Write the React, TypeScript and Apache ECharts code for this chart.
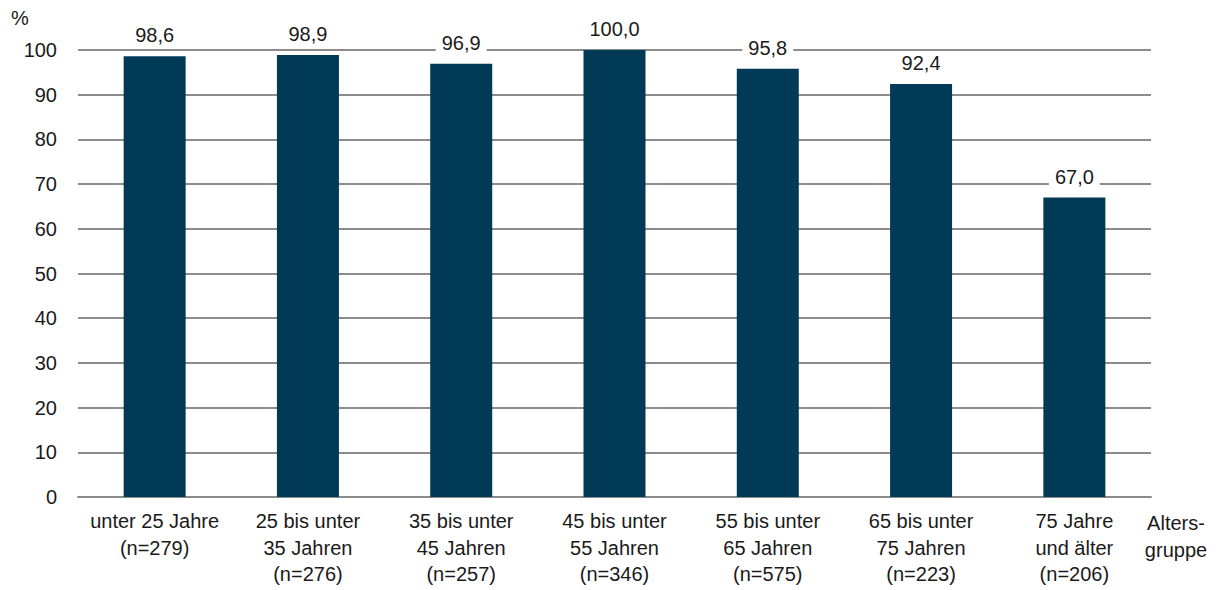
import React, { useEffect, useRef } from "react";
import * as echarts from "echarts";

// Age groups with sample sizes (multi-line axis labels)
const categories: string[] = [
  "unter 25 Jahre\n(n=279)",
  "25 bis unter\n35 Jahren\n(n=276)",
  "35 bis unter\n45 Jahren\n(n=257)",
  "45 bis unter\n55 Jahren\n(n=346)",
  "55 bis unter\n65 Jahren\n(n=575)",
  "65 bis unter\n75 Jahren\n(n=223)",
  "75 Jahre\nund älter\n(n=206)",
];

// Share in percent
const values: number[] = [98.6, 98.9, 96.9, 100.0, 95.8, 92.4, 67.0];

const yTicks = { min: 0, max: 100, interval: 10 };

const FONT = "'Liberation Sans', Arial, sans-serif";
const TEXT = "#1a1a1a";
const BAR = "#003a57";
const GRID = "#8c8c8c";

export default function App() {
  const ref = useRef<HTMLDivElement>(null);

  useEffect(() => {
    if (!ref.current) return;
    const chart = echarts.init(ref.current, undefined, { renderer: "svg" });
    chart.setOption({
      animation: false,
      backgroundColor: "#ffffff",
      grid: { left: 78, right: 68, top: 50, bottom: 93, containLabel: false },
      xAxis: {
        type: "category",
        data: categories,
        axisLine: { show: true, lineStyle: { color: GRID, width: 2 } },
        axisTick: { show: false },
        axisLabel: {
          color: TEXT,
          fontFamily: FONT,
          fontSize: 20,
          lineHeight: 26.5,
          margin: 11,
          interval: 0,
        },
      },
      yAxis: {
        type: "value",
        min: yTicks.min,
        max: yTicks.max,
        interval: yTicks.interval,
        axisLine: { show: false },
        axisTick: { show: false },
        axisLabel: {
          color: TEXT,
          fontFamily: FONT,
          fontSize: 20,
          margin: 21,
        },
        splitLine: { lineStyle: { color: GRID, width: 2 } },
      },
      series: [
        {
          type: "bar",
          data: values,
          barWidth: 62,
          itemStyle: { color: BAR },
          label: {
            show: true,
            position: "top",
            distance: 9,
            color: TEXT,
            fontFamily: FONT,
            fontSize: 20,
            backgroundColor: "#ffffff",
            padding: [2, 6],
            formatter: (p: any) => Number(p.value).toFixed(1).replace(".", ","),
          },
        },
      ],
      graphic: [
        {
          type: "text",
          left: 11,
          top: 8,
          style: { text: "%", fill: TEXT, font: `20px ${FONT}` },
        },
        {
          type: "text",
          x: 1176,
          y: 510,
          style: {
            text: "Alters-\ngruppe",
            fill: TEXT,
            font: `20px ${FONT}`,
            lineHeight: 26.5,
            align: "center",
            verticalAlign: "top",
          },
        },
      ],
    });
    return () => chart.dispose();
  }, []);

  return (
    <div
      ref={ref}
      style={{ position: "absolute", left: 0, top: 0, width: 1219, height: 590 }}
    />
  );
}
